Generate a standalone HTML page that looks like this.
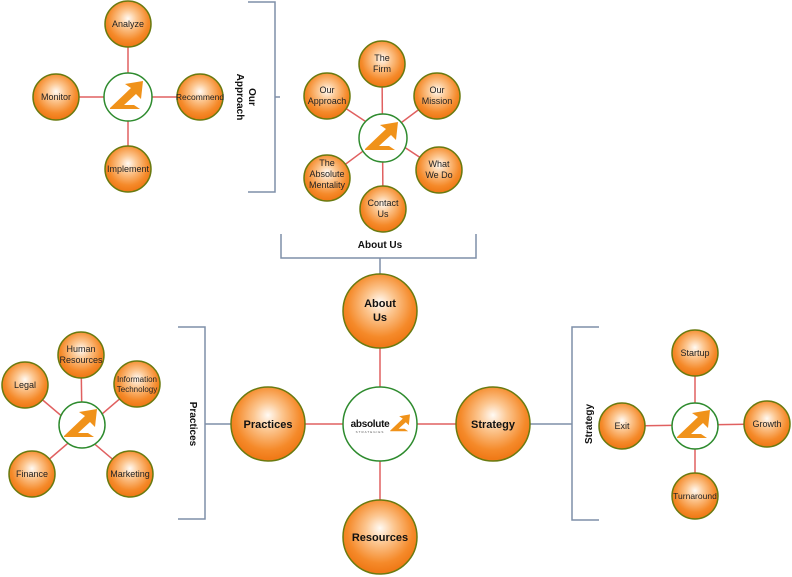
<!DOCTYPE html>
<html><head><meta charset="utf-8"><style>
html,body{margin:0;padding:0;background:#fff;}
svg{display:block;font-family:"Liberation Sans",sans-serif;}
</style></head><body>
<svg width="792" height="577" viewBox="0 0 792 577" xmlns="http://www.w3.org/2000/svg">
<defs>
<radialGradient id="g" cx="50%" cy="42%" r="55%" fx="50%" fy="38%">
<stop offset="0" stop-color="#fffaf4"/><stop offset="0.35" stop-color="#fcc690"/><stop offset="0.8" stop-color="#f58a2a"/><stop offset="1" stop-color="#f07a18"/>
</radialGradient>
<g id="logo"><polygon points="-18,11 3,-9 -3,-13 15,-16 13,2 8,-3 -4,8 6,8 12,12 -18,12" fill="#f0921a"/></g>
</defs>
<g stroke="#e06060" stroke-width="1.5">
<line x1="128" y1="24" x2="128" y2="169"/><line x1="56" y1="97" x2="200" y2="97"/>
<line x1="382" y1="64" x2="383" y2="209"/><line x1="327" y1="96" x2="439" y2="170"/><line x1="437" y1="96" x2="327" y2="178"/>
<line x1="380" y1="311" x2="380" y2="537"/><line x1="268" y1="424" x2="493" y2="424"/>
<line x1="81" y1="355" x2="82" y2="425"/><line x1="25" y1="385" x2="130" y2="474"/><line x1="137" y1="384" x2="32" y2="474"/>
<line x1="695" y1="353" x2="695" y2="496"/><line x1="622" y1="426" x2="767" y2="424"/>
</g>
<g stroke="#7f8fa8" stroke-width="1.5" fill="none">
<polyline points="248,2 275,2 275,192 248,192"/><line x1="275" y1="97" x2="280" y2="97"/>
<polyline points="281,234 281,258 476,258 476,234"/><line x1="380" y1="258" x2="380" y2="274"/>
<polyline points="178,327 205,327 205,519 178,519"/><line x1="205" y1="424" x2="231" y2="424"/>
<polyline points="599,327 572,327 572,520 599,520"/><line x1="530" y1="424" x2="572" y2="424"/>
</g>
<g fill="url(#g)" stroke="#6a7a10" stroke-width="1.5">
<circle cx="128" cy="24" r="23"/><circle cx="56" cy="97" r="23"/><circle cx="200" cy="97" r="23"/><circle cx="128" cy="169" r="23"/>
<circle cx="382" cy="64" r="23"/><circle cx="437" cy="96" r="23"/><circle cx="439" cy="170" r="23"/><circle cx="383" cy="209" r="23"/><circle cx="327" cy="178" r="23"/><circle cx="327" cy="96" r="23"/>
<circle cx="380" cy="311" r="37"/><circle cx="268" cy="424" r="37"/><circle cx="493" cy="424" r="37"/><circle cx="380" cy="537" r="37"/>
<circle cx="81" cy="355" r="23"/><circle cx="137" cy="384" r="23"/><circle cx="25" cy="385" r="23"/><circle cx="32" cy="474" r="23"/><circle cx="130" cy="474" r="23"/>
<circle cx="695" cy="353" r="23"/><circle cx="767" cy="424" r="23"/><circle cx="695" cy="496" r="23"/><circle cx="622" cy="426" r="23"/>
</g>
<g fill="#fff" stroke="#2e8b2e" stroke-width="1.5">
<circle cx="128" cy="97" r="24"/><circle cx="383" cy="138" r="24"/><circle cx="380" cy="424" r="37"/><circle cx="82" cy="425" r="23"/><circle cx="695" cy="426" r="23"/>
</g>
<use href="#logo" x="128" y="97"/><use href="#logo" x="383" y="138"/><use href="#logo" x="82" y="425"/><use href="#logo" x="695" y="426"/>
<g transform="translate(401,424) scale(0.6)"><polygon points="-18,11 3,-9 -3,-13 15,-16 13,2 8,-3 -4,8 6,8 12,12 -18,12" fill="#f0921a"/></g>
<text x="370" y="427" font-size="10" font-weight="bold" text-anchor="middle" fill="#111" letter-spacing="-0.3">absolute</text>
<text x="370" y="433" font-size="3" text-anchor="middle" fill="#555" letter-spacing="1">STRATEGIES</text>
<g font-size="9" fill="#222" text-anchor="middle">
<text x="128" y="27">Analyze</text><text x="56" y="100">Monitor</text><text x="200" y="100" font-size="8.5">Recommend</text><text x="128" y="172">Implement</text>
<text x="382" y="61">The</text><text x="382" y="72">Firm</text>
<text x="437" y="93">Our</text><text x="437" y="104">Mission</text>
<text x="439" y="167">What</text><text x="439" y="178">We Do</text>
<text x="383" y="206">Contact</text><text x="383" y="217">Us</text>
<text x="327" y="166">The</text><text x="327" y="177">Absolute</text><text x="327" y="188">Mentality</text>
<text x="327" y="93">Our</text><text x="327" y="104">Approach</text>
<text x="81" y="352">Human</text><text x="81" y="363">Resources</text>
<text x="137" y="382" font-size="8">Information</text><text x="137" y="392" font-size="8">Technology</text>
<text x="25" y="388">Legal</text><text x="32" y="477">Finance</text><text x="130" y="477">Marketing</text>
<text x="695" y="356">Startup</text><text x="767" y="427">Growth</text><text x="695" y="499" font-size="8.5">Turnaround</text><text x="622" y="429">Exit</text>
</g>
<g font-size="11" font-weight="bold" fill="#111" text-anchor="middle">
<text x="380" y="307">About</text><text x="380" y="321">Us</text>
<text x="268" y="428">Practices</text><text x="493" y="428">Strategy</text><text x="380" y="541">Resources</text>
<text x="380" y="248" font-size="10">About Us</text>
<text transform="translate(244,97) rotate(90)" font-size="10"><tspan x="0" y="-5">Our</tspan><tspan x="0" y="7">Approach</tspan></text>
<text transform="translate(190,424) rotate(90)" font-size="10">Practices</text>
<text transform="translate(592,424) rotate(-90)" font-size="10">Strategy</text>
</g>
</svg>
</body></html>
